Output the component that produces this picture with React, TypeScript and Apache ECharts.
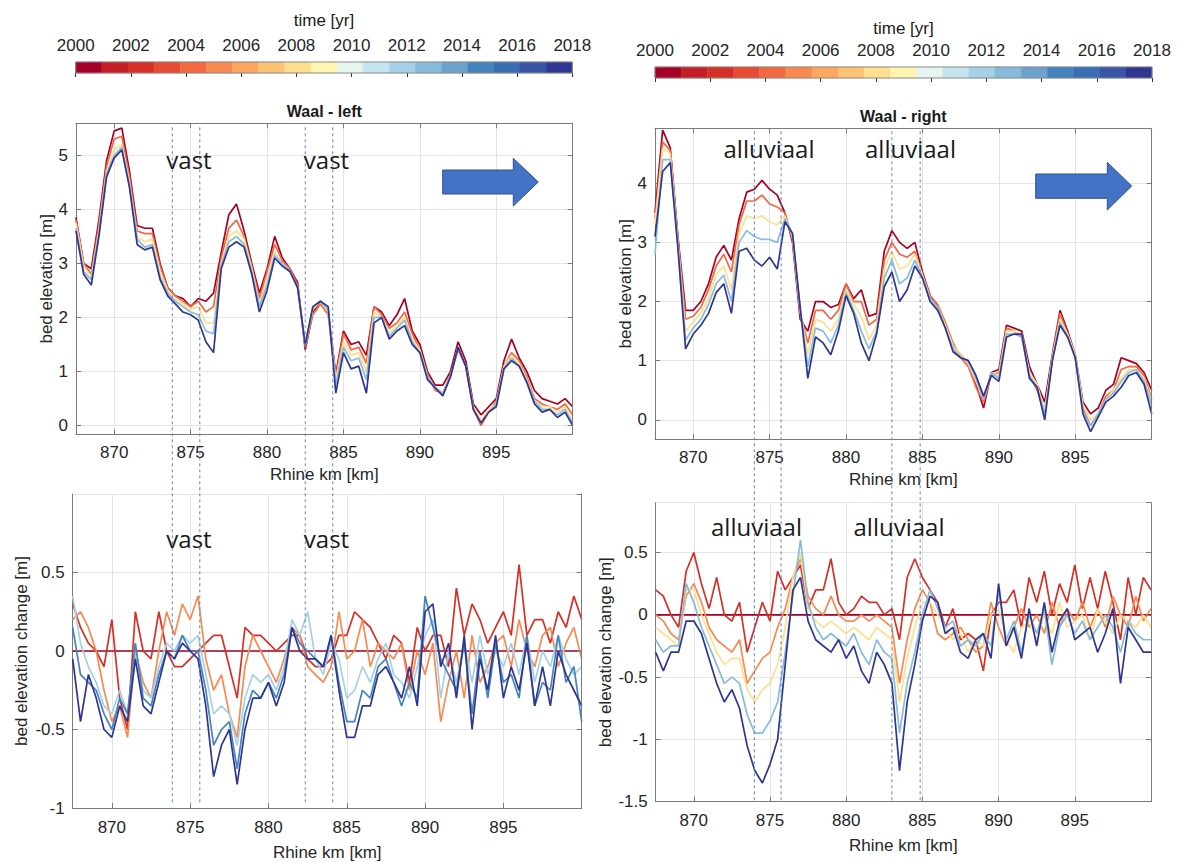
import React, { useEffect, useRef } from "react";
import * as echarts from "echarts";

// ---------- data ----------
const kms = [
  867.5, 868, 868.5, 869, 869.5, 870, 870.5, 871, 871.5, 872, 872.5,
  873, 873.5, 874, 874.5, 875, 875.5, 876, 876.5, 877, 877.5, 878,
  878.5, 879, 879.5, 880, 880.5, 881, 881.5, 882, 882.5, 883, 883.5,
  884, 884.5, 885, 885.5, 886, 886.5, 887, 887.5, 888, 888.5, 889,
  889.5, 890, 890.5, 891, 891.5, 892, 892.5, 893, 893.5, 894, 894.5,
  895, 895.5, 896, 896.5, 897, 897.5, 898, 898.5, 899, 899.5, 900,
];

const colorYears = [2000, 2001, 2002, 2003, 2004, 2005, 2006, 2007, 2008, 2009, 2010, 2011, 2012, 2013, 2014, 2015, 2016, 2017, 2018];
const colorMap = [
  "#a50026", "#c41e27", "#d62f26", "#e54a33", "#f26841", "#f88a51", "#fba760", "#fdc374", "#fedf8f", "#fff5b0",
  "#e6f5ee", "#c4e4ef", "#a5d1e6", "#87bbdb", "#6da2cd", "#4583bf", "#3a6eb3", "#3856a5", "#2f3592",
];

// Waal - left, bed elevation [m]
const tl2000 = [
  3.85, 3.0, 2.9, 3.8, 4.9, 5.45, 5.5, 4.7, 3.7, 3.65, 3.65,
  3.0, 2.55, 2.4, 2.35, 2.2, 2.35, 2.3, 2.45, 3.2, 3.9, 4.1,
  3.6, 3.0, 2.45, 2.9, 3.5, 3.1, 2.9, 2.65, 1.4, 2.1, 2.3,
  2.1, 0.95, 1.75, 1.5, 1.55, 1.3, 2.2, 2.1, 1.85, 2.05, 2.35,
  1.75, 1.5, 1.0, 0.75, 0.75, 1.0, 1.55, 1.2, 0.4, 0.2, 0.35,
  0.5, 1.2, 1.6, 1.25, 1.0, 0.65, 0.5, 0.45, 0.4, 0.5, 0.35,
];
const tl2004 = [
  3.8, 3.0, 2.8, 3.7, 4.8, 5.3, 5.35, 4.6, 3.6, 3.55, 3.55,
  2.95, 2.55, 2.4, 2.3, 2.2, 2.3, 2.1, 2.2, 3.1, 3.65, 3.8,
  3.5, 2.95, 2.35, 2.85, 3.35, 3.05, 2.9, 2.6, 1.45, 2.05, 2.25,
  2.05, 0.9, 1.7, 1.4, 1.45, 1.15, 2.2, 2.05, 1.8, 1.9, 2.1,
  1.7, 1.4, 0.95, 0.65, 0.6, 0.95, 1.4, 1.1, 0.3, 0.0, 0.25,
  0.45, 1.1, 1.35, 1.2, 0.9, 0.5, 0.4, 0.35, 0.3, 0.4, 0.2,
];
const tl2008 = [
  3.75, 2.95, 2.75, 3.6, 4.7, 5.1, 5.2, 4.5, 3.5, 3.4, 3.45,
  2.85, 2.5, 2.35, 2.25, 2.15, 2.2, 1.9, 1.9, 3.0, 3.5, 3.6,
  3.45, 2.9, 2.25, 2.7, 3.2, 3.0, 2.85, 2.55, 1.5, 2.15, 2.3,
  2.1, 0.85, 1.55, 1.3, 1.35, 1.0, 2.1, 2.0, 1.7, 1.85, 2.0,
  1.6, 1.4, 0.9, 0.7, 0.6, 0.9, 1.45, 1.1, 0.35, 0.1, 0.3,
  0.4, 1.1, 1.3, 1.15, 0.85, 0.45, 0.35, 0.35, 0.25, 0.35, 0.15,
];
const tl2013 = [
  3.65, 2.85, 2.7, 3.55, 4.65, 5.0, 5.15, 4.45, 3.45, 3.3, 3.35,
  2.75, 2.45, 2.3, 2.2, 2.1, 2.05, 1.75, 1.7, 2.95, 3.4, 3.5,
  3.35, 2.85, 2.2, 2.6, 3.15, 3.0, 2.85, 2.55, 1.5, 2.2, 2.3,
  2.15, 0.75, 1.45, 1.2, 1.25, 0.85, 2.0, 2.0, 1.65, 1.8, 1.95,
  1.55, 1.35, 0.9, 0.7, 0.6, 0.9, 1.45, 1.1, 0.3, 0.05, 0.25,
  0.4, 1.05, 1.25, 1.1, 0.8, 0.45, 0.3, 0.3, 0.2, 0.3, 0.05,
];
const tl2018 = [
  3.6, 2.8, 2.6, 3.5, 4.6, 4.95, 5.1, 4.4, 3.35, 3.25, 3.3,
  2.7, 2.4, 2.25, 2.1, 2.05, 1.95, 1.55, 1.35, 2.9, 3.3, 3.4,
  3.3, 2.8, 2.1, 2.5, 3.1, 2.95, 2.85, 2.55, 1.5, 2.2, 2.3,
  2.2, 0.6, 1.35, 1.05, 1.1, 0.6, 1.9, 2.0, 1.6, 1.75, 1.85,
  1.5, 1.35, 0.85, 0.7, 0.55, 0.9, 1.45, 1.1, 0.3, 0.05, 0.25,
  0.35, 1.05, 1.2, 1.1, 0.8, 0.4, 0.25, 0.3, 0.15, 0.25, 0.0,
];

// Waal - right, bed elevation [m]
const tr2000 = [
  3.5, 4.9, 4.6, 3.1, 1.85, 1.85, 2.0, 2.3, 2.75, 2.95, 2.7,
  3.4, 3.85, 3.9, 4.05, 3.9, 3.8, 3.5, 3.0, 1.7, 1.5, 2.0,
  2.0, 1.9, 1.95, 2.3, 2.05, 2.2, 1.75, 1.8, 2.85, 3.2, 3.0,
  2.9, 3.0, 2.5, 2.1, 1.9, 1.6, 1.25, 1.1, 0.95, 0.6, 0.2,
  0.8, 0.85, 1.6, 1.55, 1.5, 0.9, 0.6, 0.3, 1.1, 1.85, 1.5,
  1.1, 0.3, 0.1, 0.2, 0.5, 0.6, 1.05, 1.0, 0.95, 0.8, 0.5,
];
const tr2004 = [
  3.4, 4.7, 4.55, 3.05, 1.7, 1.75, 1.9, 2.2, 2.6, 2.8, 2.5,
  3.3, 3.7, 3.7, 3.8, 3.65, 3.6, 3.5, 3.05, 1.8, 1.3, 1.85,
  1.85, 1.7, 1.85, 2.3, 2.0, 2.0, 1.6, 1.7, 2.7, 3.0, 2.8,
  2.75, 2.85, 2.45, 2.1, 1.95, 1.65, 1.3, 1.05, 0.9, 0.55, 0.3,
  0.75, 0.8, 1.55, 1.5, 1.4, 0.75, 0.5, 0.15, 1.05, 1.8, 1.45,
  1.05, 0.2, -0.1, 0.1, 0.4, 0.5, 0.85, 0.9, 0.9, 0.75, 0.35,
];
const tr2008 = [
  3.3, 4.6, 4.5, 3.0, 1.5, 1.65, 1.8, 2.05, 2.45, 2.6, 2.2,
  3.15, 3.45, 3.4, 3.45, 3.35, 3.3, 3.45, 3.1, 1.85, 1.1, 1.7,
  1.65, 1.5, 1.7, 2.2, 1.95, 1.75, 1.35, 1.6, 2.55, 2.85, 2.55,
  2.6, 2.8, 2.45, 2.05, 1.9, 1.6, 1.25, 1.1, 0.95, 0.65, 0.35,
  0.8, 0.75, 1.5, 1.5, 1.45, 0.8, 0.6, 0.15, 1.05, 1.7, 1.45,
  1.1, 0.25, 0.0, 0.1, 0.35, 0.5, 0.7, 0.85, 0.85, 0.7, 0.3,
];
const tr2013 = [
  2.8, 4.4, 4.4, 2.95, 1.35, 1.55, 1.7, 1.95, 2.3, 2.45, 2.0,
  3.0, 3.2, 3.1, 3.05, 3.05, 3.0, 3.4, 3.15, 1.85, 0.9, 1.55,
  1.5, 1.3, 1.6, 2.15, 1.85, 1.5, 1.2, 1.5, 2.4, 2.7, 2.3,
  2.4, 2.7, 2.4, 2.05, 1.9, 1.55, 1.2, 1.05, 1.0, 0.7, 0.35,
  0.8, 0.7, 1.45, 1.45, 1.4, 0.75, 0.55, 0.1, 1.0, 1.65, 1.4,
  1.05, 0.15, -0.1, 0.1, 0.35, 0.45, 0.65, 0.8, 0.85, 0.65, 0.25,
];
const tr2018 = [
  3.1, 4.2, 4.35, 2.9, 1.2, 1.45, 1.6, 1.8, 2.15, 2.3, 1.8,
  2.85, 2.9, 2.7, 2.6, 2.75, 2.55, 3.35, 3.15, 1.9, 0.7, 1.4,
  1.3, 1.1, 1.5, 2.1, 1.8, 1.3, 1.0, 1.45, 2.25, 2.5, 2.0,
  2.2, 2.6, 2.4, 2.0, 1.85, 1.55, 1.15, 1.05, 1.0, 0.75, 0.4,
  0.75, 0.65, 1.4, 1.45, 1.45, 0.7, 0.55, 0.0, 1.0, 1.6, 1.4,
  1.05, 0.1, -0.2, 0.05, 0.3, 0.4, 0.55, 0.75, 0.8, 0.6, 0.1,
];

// Waal - left, bed elevation change [m] (relative to 2000)
const bl2002 = [
  0.3, 0.15, 0.05, 0.0, -0.1, 0.2, -0.3, -0.5, 0.25, 0.0, -0.05,
  0.25, 0.0, -0.1, -0.1, -0.05, 0.0, 0.05, 0.1, 0.1, -0.1, -0.3,
  0.15, 0.1, 0.1, 0.05, 0.0, 0.05, 0.1, 0.1, -0.05, -0.1, -0.1,
  -0.05, 0.1, 0.1, 0.25, 0.2, 0.15, 0.05, -0.05, 0.1, 0.05, -0.2,
  0.15, 0.0, 0.1, 0.1, -0.1, 0.4, 0.1, 0.3, 0.2, 0.05, 0.15,
  0.25, 0.1, 0.55, 0.1, 0.2, 0.2, 0.05, 0.25, 0.15, 0.35, 0.2,
];
const bl2005 = [
  0.2, 0.25, 0.15, 0.0, -0.25, -0.45, -0.35, -0.55, 0.0, -0.2, -0.3,
  0.0, 0.25, 0.1, 0.3, 0.2, 0.35, -0.05, -0.25, -0.15, -0.4, -0.55,
  -0.1, 0.1, 0.0, -0.1, -0.2, -0.05, 0.15, 0.1, -0.1, -0.15, -0.2,
  -0.1, 0.25, -0.05, 0.0, 0.2, -0.1, 0.05, 0.0, -0.05, 0.05, -0.25,
  0.0, -0.15, 0.05, -0.45, -0.2, 0.0, -0.3, 0.1, -0.2, -0.1, 0.05,
  0.1, -0.1, 0.2, 0.0, -0.1, 0.1, 0.15, -0.1, 0.05, 0.15, -0.05,
];
const bl2012 = [
  0.35, 0.05, -0.1, -0.2, -0.35, -0.4, -0.25, -0.4, 0.0, -0.25, -0.3,
  -0.1, 0.05, 0.0, 0.1, 0.05, 0.1, -0.15, -0.4, -0.35, -0.4, -0.6,
  -0.3, -0.15, -0.2, -0.15, -0.25, -0.1, 0.2, 0.1, 0.25, -0.05, -0.15,
  0.05, -0.05, -0.3, -0.25, -0.1, -0.2, -0.05, 0.05, -0.15, -0.2, -0.3,
  -0.1, 0.1, 0.2, -0.3, 0.0, -0.2, 0.05, -0.2, 0.1, -0.15, 0.0,
  -0.1, 0.05, -0.15, 0.1, -0.2, 0.0, -0.1, 0.1, -0.05, -0.15, -0.1,
];
const bl2015 = [
  0.15, -0.15, -0.2, -0.25, -0.4, -0.5, -0.3, -0.4, 0.05, -0.3, -0.35,
  -0.15, 0.0, -0.05, 0.1, 0.0, 0.0, -0.25, -0.6, -0.5, -0.45, -0.75,
  -0.4, -0.25, -0.3, -0.2, -0.3, -0.15, 0.15, 0.05, 0.0, -0.05, -0.1,
  0.1, -0.2, -0.45, -0.45, -0.25, -0.3, -0.1, -0.05, -0.2, -0.35, -0.2,
  -0.3, 0.35, 0.15, -0.05, -0.15, -0.25, 0.05, -0.4, 0.0, -0.3, 0.05,
  -0.2, -0.15, -0.3, 0.1, -0.35, -0.2, -0.25, 0.1, -0.2, -0.1, -0.45,
];
const bl2018 = [
  -0.05, -0.45, -0.15, -0.3, -0.5, -0.55, -0.35, -0.45, -0.05, -0.35, -0.4,
  -0.2, 0.0, -0.05, 0.05, 0.0, -0.05, -0.35, -0.8, -0.6, -0.5, -0.85,
  -0.5, -0.3, -0.3, -0.2, -0.35, -0.2, 0.15, 0.0, -0.05, -0.05, -0.1,
  0.1, -0.25, -0.55, -0.55, -0.35, -0.35, -0.15, -0.1, -0.2, -0.3, -0.1,
  -0.35, 0.25, 0.3, -0.1, 0.05, -0.3, 0.1, -0.5, -0.05, -0.25, 0.1,
  -0.3, -0.1, -0.25, 0.05, -0.35, -0.1, -0.35, 0.0, -0.15, -0.25, -0.35,
];

// Waal - right, bed elevation change [m] (relative to 2000)
const br2002 = [
  0.2, 0.15, 0.0, -0.1, 0.35, 0.5, 0.25, 0.05, 0.3, 0.0, -0.05,
  0.1, -0.3, -0.1, 0.1, -0.05, 0.35, 0.2, 0.3, 0.4, 0.05, 0.2,
  0.2, 0.45, 0.1, 0.0, 0.05, 0.15, 0.1, 0.1, 0.0, 0.05, -0.2,
  0.3, 0.45, 0.3, 0.2, 0.1, -0.1, 0.05, -0.2, -0.15, -0.2, -0.45,
  0.0, 0.1, 0.1, 0.2, -0.1, 0.3, 0.1, 0.35, 0.0, 0.25, 0.1,
  0.4, 0.05, 0.3, 0.05, 0.35, 0.1, -0.2, 0.3, 0.0, 0.3, 0.2,
];
const br2005 = [
  0.0, -0.05, -0.15, -0.2, 0.15, 0.25, 0.1, -0.1, -0.2, -0.25, -0.3,
  -0.2, -0.55, -0.45, -0.35, -0.3, -0.1, 0.05, 0.3, 0.45, 0.15, 0.05,
  0.0, 0.15, 0.0, -0.05, -0.05, 0.0, -0.05, 0.0, -0.05, -0.1, -0.55,
  -0.2, 0.05, 0.2, 0.1, -0.15, -0.2, -0.15, -0.1, -0.2, -0.3, -0.25,
  0.1, -0.1, -0.25, -0.1, 0.05, -0.1, 0.0, -0.15, 0.1, -0.1, 0.05,
  -0.05, 0.1, -0.1, 0.05, -0.1, 0.15, 0.0, -0.1, 0.15, -0.05, 0.05,
];
const br2008 = [
  -0.1, -0.15, -0.2, -0.25, 0.2, 0.2, 0.0, -0.15, -0.3, -0.4, -0.35,
  -0.35, -0.6, -0.7, -0.6, -0.55, -0.4, -0.1, 0.3, 0.5, 0.05, -0.05,
  -0.1, -0.05, -0.1, -0.15, -0.1, -0.15, -0.2, -0.1, -0.15, -0.2, -0.7,
  -0.35, -0.1, 0.1, 0.1, 0.0, -0.1, -0.2, -0.15, -0.3, -0.2, -0.25,
  0.0, 0.05, -0.2, -0.3, -0.1, -0.05, -0.2, 0.0, -0.15, 0.1, -0.1,
  -0.05, 0.0, -0.2, 0.05, -0.05, -0.15, 0.0, -0.05, -0.1, 0.0, -0.1,
];
const br2013 = [
  -0.2, -0.3, -0.25, -0.25, 0.25, 0.1, -0.1, -0.25, -0.4, -0.55, -0.5,
  -0.55, -0.8, -0.95, -0.95, -0.85, -0.7, -0.3, 0.15, 0.6, 0.1, -0.1,
  -0.2, -0.15, -0.2, -0.25, -0.15, -0.3, -0.4, -0.2, -0.3, -0.35, -0.95,
  -0.55, -0.3, 0.0, 0.2, 0.05, -0.1, -0.05, -0.25, -0.2, -0.25, -0.15,
  -0.25, 0.2, -0.2, -0.05, -0.3, 0.0, -0.15, 0.05, -0.4, -0.1, 0.0,
  -0.15, -0.05, -0.2, -0.1, 0.0, -0.1, -0.3, -0.05, -0.15, -0.2, -0.2,
];
const br2018 = [
  -0.3, -0.45, -0.3, -0.3, -0.05, -0.05, -0.15, -0.35, -0.55, -0.7, -0.6,
  -0.75, -1.05, -1.25, -1.35, -1.2, -1.0, -0.4, 0.2, 0.3, -0.05, -0.2,
  -0.25, -0.3, -0.2, -0.35, -0.25, -0.45, -0.55, -0.3, -0.4, -0.55, -1.25,
  -0.7, -0.4, -0.05, 0.15, 0.1, -0.15, -0.1, -0.3, -0.35, -0.2, -0.15,
  -0.35, 0.25, -0.25, -0.1, -0.35, 0.05, -0.25, 0.1, -0.3, -0.05, 0.05,
  -0.2, -0.15, -0.1, -0.3, -0.15, 0.05, -0.55, -0.1, -0.2, -0.3, -0.3,
];

// annotation positions (Rhine km)
const leftBounds = [873.8, 875.6, 882.5, 884.3];
const rightBounds = [874.0, 875.75, 883.0, 884.85];

// ---------- styling ----------
const FONT = '"Liberation Sans", Arial, Helvetica, sans-serif';
const NOTE_FONT = '"Open Sans", "Noto Sans", sans-serif';
const AXIS_COLOR = "#7a7a7a";
const TEXT_COLOR = "#262626";
const GRID_LINE = "#e4e4e4";
const KM_MIN = kms[0];
const KM_MAX = kms[kms.length - 1];

const labelStyle = { color: TEXT_COLOR, fontSize: 17, fontFamily: FONT };

function mainX(grid: number, margin: number, nameGap: number) {
  return {
    type: "value", gridIndex: grid, min: KM_MIN, max: KM_MAX, splitNumber: 5, position: "bottom",
    name: "Rhine km [km]", nameLocation: "middle", nameGap,
    nameTextStyle: { ...labelStyle },
    axisLine: { show: true, onZero: false, lineStyle: { color: AXIS_COLOR, width: 1 } },
    axisTick: { show: true, inside: true, length: 5, lineStyle: { color: AXIS_COLOR } },
    axisLabel: { ...labelStyle, margin, showMinLabel: false, showMaxLabel: false },
    splitLine: { show: true, lineStyle: { color: GRID_LINE, width: 1 } },
  };
}
function mirrorX(grid: number) {
  return {
    type: "value", gridIndex: grid, min: KM_MIN, max: KM_MAX, splitNumber: 5, position: "top", z: 4,
    axisLine: { show: true, onZero: false, lineStyle: { color: AXIS_COLOR, width: 1 } },
    axisTick: { show: true, inside: true, length: 5, lineStyle: { color: AXIS_COLOR } },
    axisLabel: { show: false }, splitLine: { show: false },
  };
}
function mainY(grid: number, min: number, max: number, extra: any, name: string, nameGap: number, showMin: boolean) {
  return {
    type: "value", gridIndex: grid, min, max, ...extra, position: "left",
    name, nameLocation: "middle", nameGap, nameTextStyle: { ...labelStyle },
    axisLine: { show: true, onZero: false, lineStyle: { color: AXIS_COLOR, width: 1 } },
    axisTick: { show: true, inside: true, length: 5, lineStyle: { color: AXIS_COLOR } },
    axisLabel: { ...labelStyle, margin: 8, showMinLabel: showMin, showMaxLabel: false },
    splitLine: { show: true, lineStyle: { color: GRID_LINE, width: 1 } },
  };
}
function mirrorY(grid: number, min: number, max: number, extra: any) {
  return {
    type: "value", gridIndex: grid, min, max, ...extra, position: "right", z: 4,
    axisLine: { show: true, onZero: false, lineStyle: { color: AXIS_COLOR, width: 1 } },
    axisTick: { show: true, inside: true, length: 5, lineStyle: { color: AXIS_COLOR } },
    axisLabel: { show: false }, splitLine: { show: false },
  };
}
function cbX(grid: number) {
  return {
    type: "value", gridIndex: grid, min: colorYears[0], max: colorYears[colorYears.length - 1], interval: 2,
    position: "top", z: 5,
    axisLine: { show: false },
    axisTick: { show: true, inside: true, length: 4, lineStyle: { color: "#333" } },
    axisLabel: { ...labelStyle, margin: 8, formatter: (v: number) => String(v) },
    splitLine: { show: false },
  };
}
function cbY(grid: number) {
  return { type: "value", gridIndex: grid, min: 0, max: 1, show: false };
}

function line(axis: number, values: number[], year: number) {
  return {
    type: "line", xAxisIndex: axis, yAxisIndex: axis, silent: true, symbol: "none", showSymbol: false,
    data: kms.map((k, i) => [k, values[i]]),
    lineStyle: { width: 1.7, color: colorMap[colorYears.indexOf(year)] },
  };
}
function baseline(axis: number) {
  return {
    type: "line", xAxisIndex: axis, yAxisIndex: axis, silent: true, symbol: "none", showSymbol: false,
    data: [[KM_MIN, 0], [KM_MAX, 0]],
    lineStyle: { width: 1.7, color: colorMap[0] },
  };
}

const cbBins = colorYears.map((_, i) => [
  colorYears[0] + (i * (colorYears[colorYears.length - 1] - colorYears[0])) / colorYears.length,
  colorYears[0] + ((i + 1) * (colorYears[colorYears.length - 1] - colorYears[0])) / colorYears.length,
]);
function colorbar(axis: number) {
  return {
    type: "custom", xAxisIndex: axis, yAxisIndex: axis, silent: true, z: 1,
    encode: { x: [0, 1] },
    data: cbBins,
    renderItem: (params: any, api: any) => {
      const a = api.coord([api.value(0), 0]);
      const b = api.coord([api.value(1), 1]);
      const c = colorMap[params.dataIndex];
      return {
        type: "rect",
        shape: { x: a[0], y: b[1], width: b[0] - a[0], height: a[1] - b[1] },
        style: { fill: c, stroke: c, lineWidth: 0.5 },
      };
    },
  };
}

export default function App() {
  const ref = useRef<HTMLDivElement>(null);

  useEffect(() => {
    if (!ref.current) return;
    const chart = echarts.init(ref.current, null, { renderer: "svg" });

    const option: any = {
      animation: false,
      backgroundColor: "#ffffff",
      grid: [
        { left: 75.7, top: 62, width: 496.6, height: 11 },
        { left: 655, top: 67, width: 497, height: 11 },
        { left: 76, top: 123.3, width: 496.7, height: 311 },
        { left: 655, top: 128.3, width: 496.7, height: 311 },
        { left: 72.7, top: 494, width: 509, height: 317.7 },
        { left: 655.7, top: 502.7, width: 495.3, height: 299 },
      ],
      xAxis: [
        cbX(0), cbX(1),
        mainX(2, 10, 32), mainX(3, 10, 32), mainX(4, 11, 36), mainX(5, 10, 35),
        mirrorX(2), mirrorX(3),
      ],
      yAxis: [
        cbY(0), cbY(1),
        mainY(2, -0.16, 5.59, { splitNumber: 5 }, "bed elevation [m]", 21, false),
        mainY(3, -0.33, 4.93, { splitNumber: 5 }, "bed elevation [m]", 21, false),
        mainY(4, -1, 1, { interval: 0.5 }, "bed elevation change [m]", 43, true),
        mainY(5, -1.5, 0.9, { interval: 0.5 }, "bed elevation change [m]", 42, true),
        mirrorY(2, -0.16, 5.59, { splitNumber: 5 }),
        mirrorY(3, -0.33, 4.93, { splitNumber: 5 }),
        mirrorY(4, -1, 1, { interval: 0.5 }),
        mirrorY(5, -1.5, 0.9, { interval: 0.5 }),
      ],
      series: [
        colorbar(0), colorbar(1),
        line(2, tl2000, 2000), line(2, tl2004, 2004), line(2, tl2008, 2008), line(2, tl2013, 2013), line(2, tl2018, 2018),
        line(3, tr2000, 2000), line(3, tr2004, 2004), line(3, tr2008, 2008), line(3, tr2013, 2013), line(3, tr2018, 2018),
        baseline(4), line(4, bl2002, 2002), line(4, bl2005, 2005), line(4, bl2012, 2012), line(4, bl2015, 2015), line(4, bl2018, 2018),
        baseline(5), line(5, br2002, 2002), line(5, br2005, 2005), line(5, br2008, 2008), line(5, br2013, 2013), line(5, br2018, 2018),
      ],
    };
    chart.setOption(option);

    // annotations positioned through the axes
    const px = (xAxisIndex: number, v: number) => chart.convertToPixel({ xAxisIndex }, v) as number;
    const py = (yAxisIndex: number, v: number) => chart.convertToPixel({ yAxisIndex }, v) as number;

    const elements: any[] = [];
    const dash = (x: number, y1: number, y2: number) => ({
      type: "line", silent: true, z: 10,
      shape: { x1: x, y1, x2: x, y2 },
      style: { stroke: "#5b87c5", lineWidth: 1, lineDash: [3, 3] },
    });
    const leftTop = py(2, 5.59) + 4;
    const leftBottom = py(4, -1) - 3;
    leftBounds.forEach((k) => elements.push(dash(px(2, k), leftTop, leftBottom)));
    const rightTop = py(3, 4.93) + 3;
    const rightBottom = py(5, -1.5);
    rightBounds.forEach((k) => elements.push(dash(px(3, k), rightTop, rightBottom)));

    // colorbar outlines
    [0, 1].forEach((i) => {
      const x0 = px(i, colorYears[0]);
      const x1 = px(i, colorYears[colorYears.length - 1]);
      const y0 = py(i, 1);
      const y1 = py(i, 0);
      elements.push({
        type: "rect", silent: true, z: 10,
        shape: { x: x0, y: y0, width: x1 - x0, height: y1 - y0 },
        style: { fill: "none", stroke: "#8a8a8a", lineWidth: 1 },
      });
    });

    const text = (x: number, y: number, t: string, font: string) => ({
      type: "text", silent: true, z: 11, x, y,
      style: { text: t, font, fill: "#1a1a1a", textAlign: "center", textVerticalAlign: "middle" },
    });
    const cbCenterL = (px(0, colorYears[0]) + px(0, colorYears[colorYears.length - 1])) / 2;
    const cbCenterR = (px(1, colorYears[0]) + px(1, colorYears[colorYears.length - 1])) / 2;
    elements.push(text(cbCenterL, 20, "time [yr]", `17px ${FONT}`));
    elements.push(text(cbCenterR, 28, "time [yr]", `17px ${FONT}`));
    const panelCenterL = (px(2, KM_MIN) + px(2, KM_MAX)) / 2;
    const panelCenterR = (px(3, KM_MIN) + px(3, KM_MAX)) / 2;
    elements.push(text(panelCenterL, 111, "Waal - left", `bold 16px ${FONT}`));
    elements.push(text(panelCenterR, 116, "Waal - right", `bold 16px ${FONT}`));

    elements.push(text(189, 159, "vast", `24px ${NOTE_FONT}`));
    elements.push(text(326.5, 159, "vast", `24px ${NOTE_FONT}`));
    elements.push(text(189, 538, "vast", `24px ${NOTE_FONT}`));
    elements.push(text(326.5, 538, "vast", `24px ${NOTE_FONT}`));
    elements.push(text(769, 148, "alluviaal", `24px ${NOTE_FONT}`));
    elements.push(text(910.5, 148, "alluviaal", `24px ${NOTE_FONT}`));
    elements.push(text(756.5, 526, "alluviaal", `24px ${NOTE_FONT}`));
    elements.push(text(899, 526, "alluviaal", `24px ${NOTE_FONT}`));

    const arrow = (pts: number[][]) => ({
      type: "polygon", silent: true, z: 11,
      shape: { points: pts },
      style: { fill: "#4472c4", stroke: "#2f528f", lineWidth: 1 },
    });
    elements.push(arrow([[442.7, 170], [513.3, 170], [513.3, 158.3], [538.3, 182], [513.3, 206], [513.3, 194], [442.7, 194]]));
    elements.push(arrow([[1035.7, 174], [1107.3, 174], [1107.3, 162.3], [1131.7, 186], [1107.3, 210], [1107.3, 198.3], [1035.7, 198.3]]));

    chart.setOption({ graphic: { elements } });

    return () => chart.dispose();
  }, []);

  return (
    <div
      ref={ref}
      style={{ position: "fixed", left: 0, top: 0, width: 1180, height: 862, background: "#ffffff" }}
    />
  );
}
